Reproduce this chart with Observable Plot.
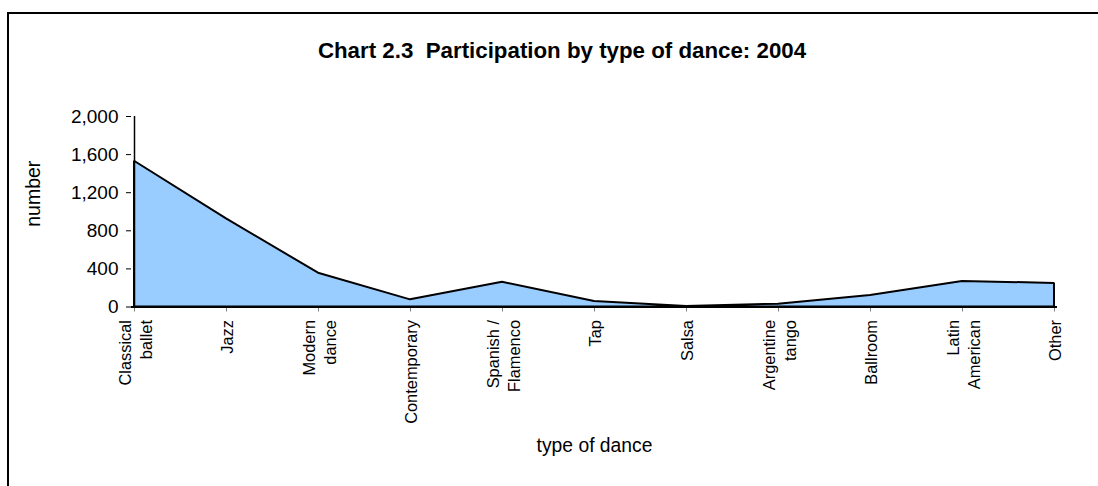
<!DOCTYPE html>
<html>
<head>
<meta charset="utf-8">
<script src="https://cdn.jsdelivr.net/npm/d3@7"></script>
<script src="https://cdn.jsdelivr.net/npm/@observablehq/plot@0.6"></script>
<style>
  html, body { margin: 0; padding: 0; background: #fff; }
  #page { position: relative; width: 1098px; height: 486px; overflow: hidden; font-family: "Liberation Sans", Arial, sans-serif; }
  #frame { position: absolute; left: 7px; top: 12px; width: 1300px; height: 700px; border-top: 2px solid #000; border-left: 2px solid #000; z-index: 2; pointer-events: none; }
  #titlebox { position: relative; height: 80px; }
  #title { position: absolute; left: 0; width: 1124px; top: 37.5px; text-align: center; font-weight: bold; font-size: 22.3px; color: #000; white-space: pre; }
</style>
</head>
<body>
<div id="page">
  <div id="frame"></div>
  <div id="titlebox"><div id="title">Chart 2.3  Participation by type of dance: 2004</div></div>
  <div id="chart"></div>
</div>
<script>
const categories = ["Classical\nballet", "Jazz", "Modern\ndance", "Contemporary", "Spanish /\nFlamenco", "Tap", "Salsa", "Argentine\ntango", "Ballroom", "Latin\nAmerican", "Other"];
const values = [1530, 925, 355, 75, 260, 58, 5, 30, 120, 268, 248];
const yTicks = [0, 400, 800, 1200, 1600, 2000];
const yLabel = "number";
const xLabel = "type of dance";

const data = categories.map((c, i) => ({type: c, value: values[i]}));

const chart = Plot.plot({
  width: 1098,
  height: 406,
  marginTop: 36,
  marginBottom: 179.5,
  marginLeft: 131,
  marginRight: 41,
  style: {fontFamily: "'Liberation Sans', Arial, sans-serif", background: "transparent", color: "#000", overflow: "visible"},
  x: {type: "point", domain: categories, padding: 0},
  y: {domain: [0, 2000]},
  marks: [
    Plot.areaY(data, {x: "type", y: "value", fill: "#99ccff", stroke: "#000", strokeWidth: 2, strokeLinejoin: "miter"}),
    Plot.axisX({tickSize: 5, stroke: "#808080", tickFormat: () => "", label: null}),
    Plot.axisX({tickSize: 0, tickPadding: 13, tickRotate: -90, fontSize: 16.4, lineHeight: 1.3, fill: "#000", label: null}),
    Plot.ruleX(categories.slice(0, 1), {stroke: "#000", strokeWidth: 1.5}),
    Plot.ruleY(yTicks.slice(0, 1), {stroke: "#000", strokeWidth: 2}),
    Plot.axisY({ticks: yTicks, tickFormat: d3.format(","), tickSize: 5, tickPadding: 8, fontSize: 19, label: null}),
    Plot.text([yLabel], {text: d => d, frameAnchor: "left", rotate: -90, dx: -98, dy: 15, fontSize: 19.5, fill: "#000"}),
    Plot.text([xLabel], {text: d => d, frameAnchor: "bottom", lineAnchor: "middle", dy: 138.5, fontSize: 19.3, fill: "#000"})
  ]
});
document.getElementById("chart").appendChild(chart);
</script>
</body>
</html>
